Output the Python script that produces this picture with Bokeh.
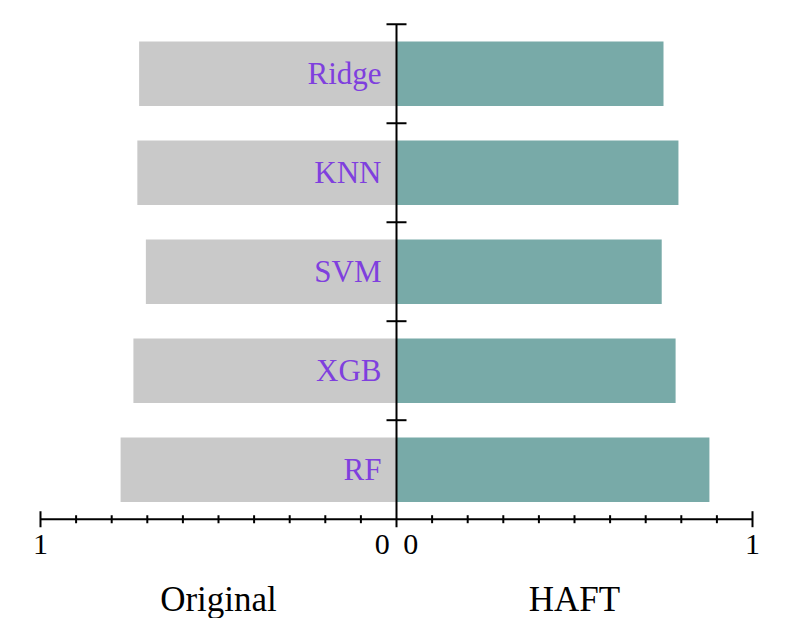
from bokeh.plotting import figure
from bokeh.models import ColumnDataSource, Range1d
from bokeh.core.properties import value
from bokeh.embed import file_html
from bokeh.resources import INLINE

# ---- data ----
categories = ["RF", "XGB", "SVM", "KNN", "Ridge"]
original = [0.775, 0.739, 0.704, 0.728, 0.723]
haft = [0.879, 0.784, 0.745, 0.792, 0.750]
side_titles = ["Original", "HAFT"]
tick_values = [-1, -0.04, 0.04, 1]
tick_labels = ["1", "0", "0", "1"]

FONT = "Liberation Serif"
GRAY = "#c9c9c9"
TEAL = "#78aaa8"
PURPLE = "#7f3fde"

W, H = 777, 618
PX_X, PX_Y = 356.0, 99.0
x0 = -1 - 40 / PX_X
y1 = 469.2 / PX_Y

p = figure(width=W, height=H, output_backend="svg", toolbar_location=None,
           x_range=Range1d(x0, x0 + W / PX_X), y_range=Range1d(y1 - H / PX_Y, y1),
           min_border=0, min_border_left=0, min_border_right=0,
           min_border_top=0, min_border_bottom=0)
p.axis.visible = False
p.grid.visible = False
p.outline_line_color = None
p.background_fill_color = "white"
p.border_fill_color = "white"

idx = list(range(len(categories)))
src = ColumnDataSource(dict(
    y=idx, neg=[-v for v in original], haft=haft, cat=categories,
    ly=[i + 0.5 / PX_Y for i in idx], lx=[-15 / PX_X] * len(idx)))

p.hbar(y="y", left="neg", right=0, height=0.65, source=src,
       fill_color=GRAY, line_color=None)
p.hbar(y="y", left=0, right="haft", height=0.65, source=src,
       fill_color=TEAL, line_color=None)

# category labels
p.text(x="lx", y="ly", text="cat", source=src, text_align="right",
       text_baseline="alphabetic", text_color=PURPLE,
       text_font=value(FONT), text_font_size="31px")

# vertical axis
n = len(categories)
p.segment(x0=[0], y0=[-0.5 - 8 / PX_Y], x1=[0], y1=[n - 0.5],
          line_color="black", line_width=2)
vt = [i + 0.5 for i in range(n)]
p.segment(x0=[-10 / PX_X] * n, y0=vt, x1=[10 / PX_X] * n, y1=vt,
          line_color="black", line_width=2)

# horizontal axis
p.segment(x0=[-1], y0=[-0.5], x1=[1], y1=[-0.5], line_color="black", line_width=2)
minor = [k / 10 for k in range(-9, 10) if k != 0]
p.segment(x0=minor, y0=[-0.5 - 4 / PX_Y] * len(minor), x1=minor,
          y1=[-0.5 + 4 / PX_Y] * len(minor), line_color="black", line_width=2)
p.segment(x0=[-1, 1], y0=[-0.5 - 8 / PX_Y] * 2, x1=[-1, 1],
          y1=[-0.5 + 8 / PX_Y] * 2, line_color="black", line_width=2)

# tick labels
p.text(x=tick_values, y=[-0.5 - 25 / PX_Y] * len(tick_values), text=tick_labels,
       text_align="center", text_baseline="alphabetic", text_color="black",
       text_font=value(FONT), text_font_size="30px")

# side titles
p.text(x=[-0.5, 0.5], y=[-0.5 - 80 / PX_Y] * 2, text=side_titles,
       text_align="center", text_baseline="alphabetic", text_color="black",
       text_font=value(FONT), text_font_size="35px")

open("out.html", "w").write(file_html(p, INLINE))
